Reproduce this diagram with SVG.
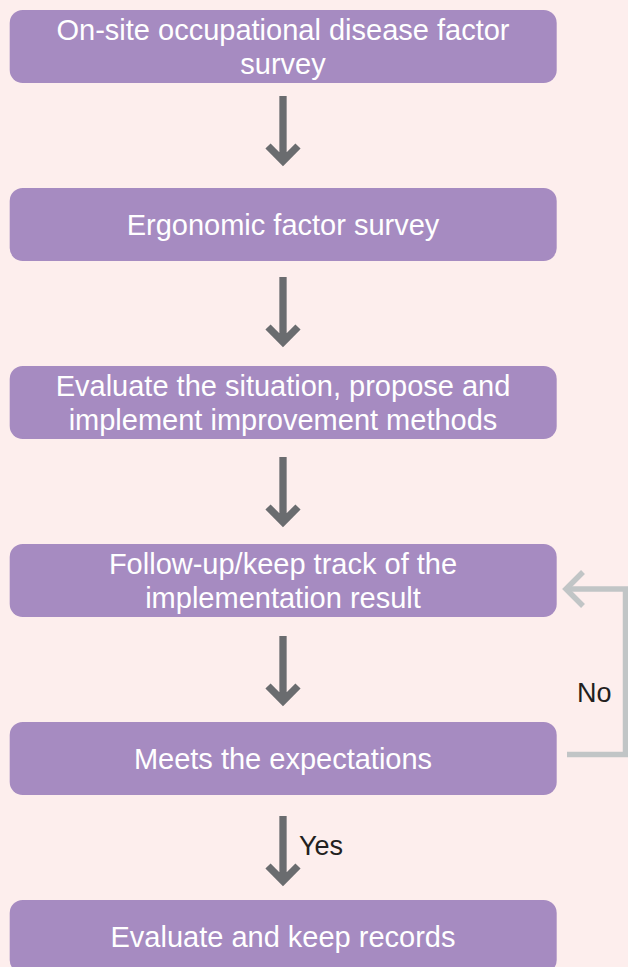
<svg xmlns="http://www.w3.org/2000/svg" width="628" height="967" viewBox="0 0 628 967">
  <defs>
    <style>
      .box { fill: #a68bc1; }
      .label { font-family: "Liberation Sans", Arial, sans-serif; font-size: 29px; fill: #ffffff; text-anchor: middle; }
      .note { font-family: "Liberation Sans", Arial, sans-serif; font-size: 27px; fill: #231f20; }
      .flow { fill: none; stroke: #6a6c6f; stroke-width: 7.3; stroke-linejoin: miter; stroke-miterlimit: 4; }
      .loop { fill: none; stroke: #c1c5c6; stroke-width: 5.5; stroke-linejoin: miter; stroke-miterlimit: 4; }
    </style>
  </defs>

  <rect width="628" height="967" fill="#fdeeed"/>

  <g id="connectors">
    <!-- downward flow arrows -->
    <path class="flow" d="M283,96 V161 M268,146 L283,161 L298,146"/>
    <path class="flow" d="M283,277 V342 M268,327 L283,342 L298,327"/>
    <path class="flow" d="M283,457 V522 M268,507 L283,522 L298,507"/>
    <path class="flow" d="M283,636 V701 M268,686 L283,701 L298,686"/>
    <path class="flow" d="M283,816 V881 M268,866 L283,881 L298,866"/>
    <!-- return loop: not met, back to follow-up -->
    <path class="loop" d="M567,754.5 H625.5 V589 H566"/>
    <path class="loop" d="M583,572 L566,589 L583,606"/>
    <text class="note" x="577" y="702">No</text>
    <text class="note" x="299" y="855">Yes</text>
  </g>

  <g id="step-survey">
    <rect class="box" x="9.7" y="10" width="547" height="73" rx="13"/>
    <text class="label" x="283" y="40">On-site occupational disease factor</text>
    <text class="label" x="283" y="74">survey</text>
  </g>

  <g id="step-ergonomic">
    <rect class="box" x="9.7" y="188" width="547" height="73" rx="13"/>
    <text class="label" x="283" y="234.5">Ergonomic factor survey</text>
  </g>

  <g id="step-evaluate">
    <rect class="box" x="9.7" y="366" width="547" height="73" rx="13"/>
    <text class="label" x="283" y="396">Evaluate the situation, propose and</text>
    <text class="label" x="283" y="430">implement improvement methods</text>
  </g>

  <g id="step-follow-up">
    <rect class="box" x="9.7" y="544" width="547" height="73" rx="13"/>
    <text class="label" x="283" y="574">Follow-up/keep track of the</text>
    <text class="label" x="283" y="608">implementation result</text>
  </g>

  <g id="step-check">
    <rect class="box" x="9.7" y="722" width="547" height="73" rx="13"/>
    <text class="label" x="283" y="768.5">Meets the expectations</text>
  </g>

  <g id="step-records">
    <rect class="box" x="9.7" y="900" width="547" height="73" rx="13"/>
    <text class="label" x="283" y="946.5">Evaluate and keep records</text>
  </g>
</svg>
